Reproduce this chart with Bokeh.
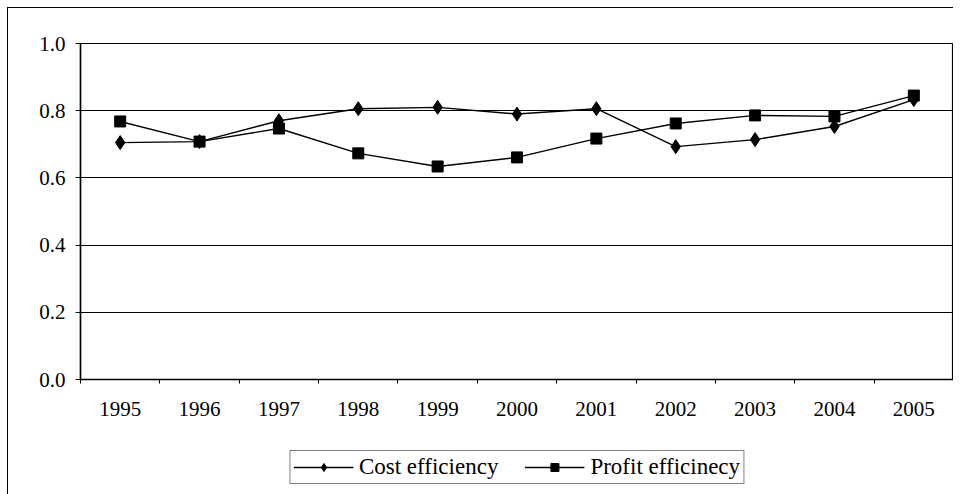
from bokeh.plotting import figure
from bokeh.layouts import column
from bokeh.models import FixedTicker, Legend, LegendItem, NumeralTickFormatter, Range1d
from bokeh.embed import file_html
from bokeh.resources import INLINE

years = ["1995", "1996", "1997", "1998", "1999", "2000", "2001", "2002", "2003", "2004", "2005"]
cost_efficiency = [0.705, 0.708, 0.770, 0.806, 0.810, 0.790, 0.806, 0.693, 0.714, 0.753, 0.833]
profit_efficiency = [0.768, 0.708, 0.747, 0.673, 0.634, 0.661, 0.717, 0.762, 0.786, 0.783, 0.845]
series_names = ["Cost efficiency", "Profit efficinecy"]
y_ticks = [0.0, 0.2, 0.4, 0.6, 0.8, 1.0]

FONT = "Liberation Serif"
xs = list(range(len(years)))

p = figure(
    frame_width=873, frame_height=336,
    min_border_left=72, min_border_top=35, min_border_right=0, min_border_bottom=60,
    output_backend="svg", toolbar_location=None,
    x_range=Range1d(-0.5, len(years) - 0.5), y_range=Range1d(0, 1.0),
)
p.background_fill_color = "white"
p.border_fill_color = "white"
p.outline_line_color = "black"
p.outline_line_width = 1.2

# grid
p.xgrid.visible = False
p.ygrid.ticker = FixedTicker(ticks=y_ticks)
p.ygrid.grid_line_color = "black"
p.ygrid.grid_line_width = 1.1

# x axis
p.xaxis.ticker = FixedTicker(ticks=xs, minor_ticks=[i - 0.5 for i in range(len(years) + 1)])
p.xaxis.major_label_overrides = {i: y for i, y in enumerate(years)}
p.xaxis.major_tick_line_color = None
p.xaxis.minor_tick_in = 0
p.xaxis.minor_tick_out = 4
p.xaxis.minor_tick_line_color = "black"
p.xaxis.major_label_standoff = 16
p.xaxis.axis_line_color = "black"
p.xaxis.axis_line_width = 1.5

# y axis
p.yaxis.ticker = FixedTicker(ticks=y_ticks)
p.yaxis.formatter = NumeralTickFormatter(format="0.0")
p.yaxis.major_tick_in = 0
p.yaxis.major_tick_out = 5
p.yaxis.major_tick_line_color = "black"
p.yaxis.minor_tick_line_color = None
p.yaxis.major_label_standoff = 10
p.yaxis.axis_line_color = "black"
p.yaxis.axis_line_width = 1.5

for ax in (p.xaxis[0], p.yaxis[0]):
    ax.major_label_text_font = FONT
    ax.major_label_text_font_size = "21px"
    ax.major_label_text_color = "black"

p.line(xs, cost_efficiency, line_color="black", line_width=1.4)
p.scatter(xs, cost_efficiency, marker="diamond", size=14, fill_color="black", line_color="black")
p.line(xs, profit_efficiency, line_color="black", line_width=1.4)
p.scatter(xs, profit_efficiency, marker="square", size=11, fill_color="black", line_color="black")

# legend strip underneath (separate figure so the legend sits freely below the axis)
lg = figure(
    frame_width=873, frame_height=55,
    min_border_left=72, min_border_top=0, min_border_right=0, min_border_bottom=0,
    output_backend="svg", toolbar_location=None,
    x_range=Range1d(0, 1), y_range=Range1d(0, 1),
)
lg.axis.visible = False
lg.grid.visible = False
lg.outline_line_color = None
lg.background_fill_color = "white"
lg.border_fill_color = "white"
k1 = lg.line(xs, cost_efficiency, line_color="black", line_width=1.4, visible=False)
m1 = lg.scatter(xs, cost_efficiency, marker="diamond", size=11, fill_color="black", line_color="black", visible=False)
k2 = lg.line(xs, profit_efficiency, line_color="black", line_width=1.4, visible=False)
m2 = lg.scatter(xs, profit_efficiency, marker="square", size=8, fill_color="black", line_color="black", visible=False)

legend = Legend(
    items=[
        LegendItem(label=series_names[0], renderers=[k1, m1]),
        LegendItem(label=series_names[1], renderers=[k2, m2]),
    ],
    orientation="horizontal",
    location="center",
    label_text_font=FONT,
    label_text_font_size="23px",
    label_text_color="black",
    border_line_color="black",
    border_line_width=1,
    padding=3,
    spacing=26,
    label_standoff=6,
    glyph_width=60,
    glyph_height=20,
    margin=0,
)
lg.add_layout(legend, "center")

layout = column(p, lg, spacing=0)
layout.styles = {"margin-left": "7px", "margin-top": "7px",
                 "border-left": "1px solid black", "border-top": "1px solid black"}

open("out.html", "w").write(file_html(layout, INLINE))
